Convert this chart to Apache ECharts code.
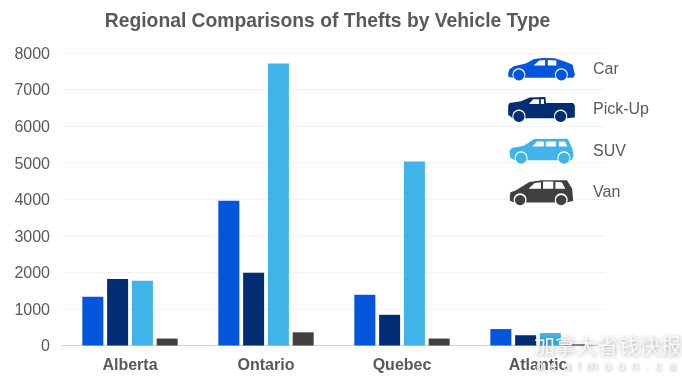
<!DOCTYPE html>
<html><head><meta charset="utf-8">
<style>html,body{margin:0;padding:0;background:#fff}#c{width:682px;height:385px}</style>
<script src="https://cdn.jsdelivr.net/npm/echarts@6/dist/echarts.min.js"></script>
</head><body><div id="c"></div>
<script>
const categories = ['Alberta','Ontario','Quebec','Atlantic'];
const car    = [1330,3960,1390,450];
const pickup = [1820,1990,840,280];
const suv    = [1770,7710,5030,340];
const van    = [190,360,190,30];
const colors = ['#0356DC','#002D73','#40B4E8','#404040'];
const names  = ['Car','Pick-Up','SUV','Van'];

// vehicle silhouettes for the legend: wheel arches are cut into the underside, wheels are separate discs
const arch = (cx,cy,r,by)=>{
  const t0 = Math.acos((by-cy)/r); let s='';
  for(let i=0;i<=14;i++){const t=t0+(2*Math.PI-2*t0)*i/14; s+=`L${(cx+r*Math.sin(t)).toFixed(1)} ${(cy+r*Math.cos(t)).toFixed(1)}`;}
  return s;
};
const disc = (cx,cy,r)=>{
  let s='';
  for(let i=0;i<24;i++){const t=2*Math.PI*i/24; s+=(i?'L':'M')+`${(cx+r*Math.sin(t)).toFixed(1)} ${(cy+r*Math.cos(t)).toFixed(1)}`;}
  return s+'Z';
};
const icons = [
 'path://M88 100L92 85L105 76L140 68L165 55L190 52L225 53L255 62L278 72L282 92L285 100L280 110'
  +arch(245,101,19,110)+arch(120,101,19,110)+'L90 108Z'
  +'M163 74L197 74L197 58L180 59Z'+'M205 74L230 74L230 59L205 58Z'+disc(120,102,16)+disc(245,102,16),
 'path://M88 195L92 188L125 183L150 172L195 171L197 188L275 188L280 195L280 230'
  +arch(239,226,19,232)+arch(119,226,19,232)+'L88 222Z'
  +'M148 191L177 191L177 177L160 177Z'+'M182 191L191 191L191 177L182 177Z'+disc(119,227,16)+disc(239,227,16),
 'path://M88 330L95 322L130 316L160 296L258 295L272 325L275 345L270 358'
  +arch(247,351,19,358)+arch(122,351,19,358)+'L90 350Z'
  +'M155 318L188 318L188 303L168 303Z'+'M194 318L224 318L224 303L194 303Z'+'M232 318L257 318L250 303L232 303Z'+disc(122,352,16)+disc(247,352,16),
 'path://M88 465L90 455L105 450L145 425L180 420L255 420L270 445L273 480L255 485'
  +arch(238,477,19,485)+arch(118,477,19,485)+'L88 480Z'
  +'M143 445L179 445L179 426L160 428Z'+'M185 445L215 445L215 424L185 424Z'+'M221 445L250 445L240 426L221 425Z'+disc(118,478,15)+disc(238,478,15)
];

const chart = echarts.init(document.getElementById('c'));
chart.setOption({
  animation:false,
  textStyle:{fontFamily:'Liberation Sans'},
  title:{text:'Regional Comparisons of Thefts by Vehicle Type',left:322.5,top:7,textAlign:'center',
    textStyle:{fontFamily:'Liberation Sans',fontSize:19.3,fontWeight:'bold',color:'#595959'}},
  grid:{left:62,right:76,top:53,bottom:39.5},
  legend:{orient:'vertical',left:508,top:58,padding:0,itemWidth:67,itemHeight:25,itemGap:16.6,selectedMode:false,
    textStyle:{fontSize:16,color:'#595959',padding:[6,0,0,13]},
    data:names.map((n,i)=>({name:n,icon:icons[i]}))},
  xAxis:{type:'category',data:categories,
    axisLine:{lineStyle:{color:'#d0d0d0',width:1}},axisTick:{show:false},
    axisLabel:{fontSize:16,fontWeight:'bold',color:'#595959',margin:12}},
  yAxis:{type:'value',min:0,max:8000,interval:1000,
    axisLine:{show:false},axisTick:{show:false},
    axisLabel:{fontSize:16,color:'#595959',margin:12,verticalAlign:'top',lineHeight:3,formatter:v=>String(v)},
    splitLine:{lineStyle:{color:'#e6e6e6',type:'dotted',width:1}}},
  series:[car,pickup,suv,van].map((d,i)=>({type:'bar',name:names[i],data:d,barWidth:21,barGap:'18%',
    itemStyle:{color:colors[i]}})),
  graphic:[
    {type:'text',z:100,left:534,top:335,style:{text:'加拿大省钱快报',fontFamily:'Noto Sans CJK SC',fontSize:21,fill:'#f8f8f8',
      textShadowColor:'rgba(0,0,0,0.35)',textShadowBlur:4,textShadowOffsetX:1,textShadowOffsetY:1}},
    {type:'text',z:100,left:536,top:360,style:{text:'d\u2002e\u2002a\u2002l\u2002m\u2002o\u2002o\u2002n\u2002.\u2002c\u2002a',fontFamily:'Liberation Sans',fontSize:13,fill:'#f6f6f6',
      textShadowColor:'rgba(0,0,0,0.35)',textShadowBlur:3,textShadowOffsetX:1,textShadowOffsetY:1}}
  ]
});
</script></body></html>
